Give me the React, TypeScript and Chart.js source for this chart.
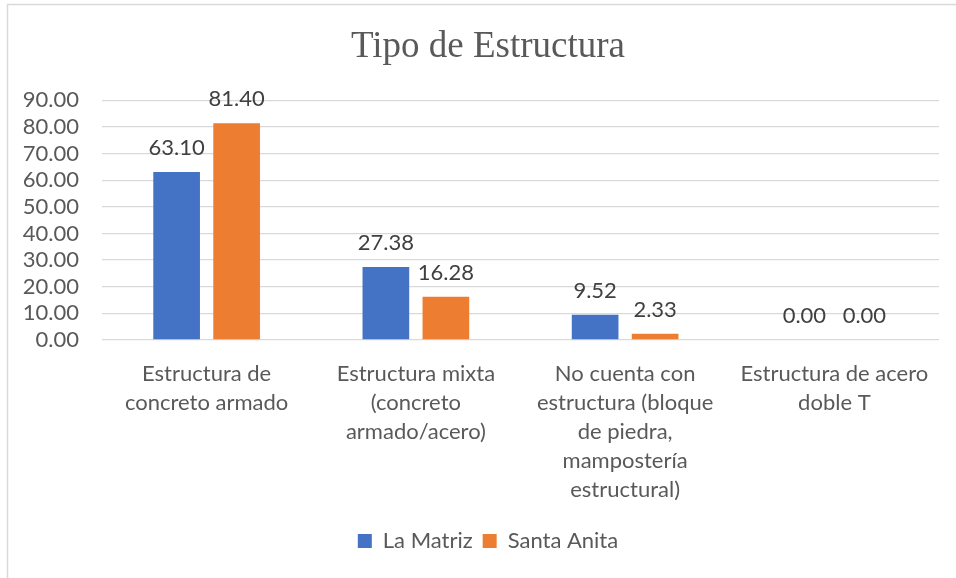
import React, { useEffect, useRef } from "react";
import { Chart, registerables } from "chart.js";

Chart.register(...registerables);

const categories: string[][] = [
  ["Estructura de", "concreto armado"],
  ["Estructura mixta", "(concreto", "armado/acero)"],
  ["No cuenta con", "estructura (bloque", "de piedra,", "mampostería", "estructural)"],
  ["Estructura de acero", "doble T"],
];
const laMatriz: number[] = [63.1, 27.38, 9.52, 0.0];
const santaAnita: number[] = [81.4, 16.28, 2.33, 0.0];
const seriesNames: string[] = ["La Matriz", "Santa Anita"];
const yTicks: number[] = [0, 10, 20, 30, 40, 50, 60, 70, 80, 90];
const titleText = "Tipo de Estructura";

const SANS = "Lato, 'Open Sans', sans-serif";
const SERIF = "'Liberation Serif', 'Times New Roman', serif";

const bgBorder = {
  id: "bgBorder",
  beforeDraw(chart: any) {
    const ctx = chart.ctx;
    ctx.save();
    ctx.fillStyle = "#ffffff";
    ctx.fillRect(0, 0, chart.width, chart.height);
    ctx.strokeStyle = "#d9d9d9";
    ctx.lineWidth = 1.5;
    ctx.strokeRect(7.5, 4.5, chart.width + 20, chart.height + 20);
    ctx.restore();
  },
};

const dataLabels = {
  id: "dataLabels",
  afterDatasetsDraw(chart: any) {
    const ctx = chart.ctx;
    ctx.save();
    ctx.font = `22px ${SANS}`;
    ctx.fillStyle = "#404040";
    ctx.textAlign = "center";
    ctx.textBaseline = "middle";
    chart.data.datasets.forEach((ds: any, i: number) => {
      const meta = chart.getDatasetMeta(i);
      meta.data.forEach((el: any, j: number) => {
        const v = ds.data[j] as number;
        ctx.fillText(v.toFixed(2), el.x, el.y - 24);
      });
    });
    ctx.restore();
  },
};

export default function App() {
  const ref = useRef<HTMLCanvasElement | null>(null);
  useEffect(() => {
    if (!ref.current) return;
    const chart = new Chart(ref.current, {
      type: "bar",
      data: {
        labels: categories,
        datasets: [
          {
            label: seriesNames[0],
            data: laMatriz,
            backgroundColor: "#4472C4",
            categoryPercentage: 0.5735,
            barPercentage: 0.778,
          },
          {
            label: seriesNames[1],
            data: santaAnita,
            backgroundColor: "#ED7D31",
            categoryPercentage: 0.5735,
            barPercentage: 0.778,
          },
        ],
      },
      options: {
        responsive: false,
        animation: false,
        layout: { padding: { left: 20, right: 0, top: 0, bottom: 16 } },
        plugins: {
          title: {
            display: true,
            text: titleText,
            color: "#595959",
            font: { family: SERIF, size: 37, weight: "normal" },
            padding: { top: 25, bottom: 31 },
          },
          legend: {
            display: true,
            position: "bottom",
            labels: {
              boxWidth: 14,
              boxHeight: 14,
              color: "#595959",
              font: { family: SANS, size: 22 },
              padding: 10,
            },
          },
          tooltip: { enabled: false },
        },
        scales: {
          x: {
            grid: { display: false, drawTicks: false },
            border: { display: false },
            ticks: {
              color: "#595959",
              font: { family: SANS, size: 22, lineHeight: 1.32 },
              padding: 19,
              maxRotation: 0,
              autoSkip: false,
            },
            afterFit: (s: any) => {
              s.height = 180;
            },
          },
          y: {
            min: 0,
            max: 90,
            afterBuildTicks: (s: any) => {
              s.ticks = yTicks.map((v) => ({ value: v }));
            },
            grid: { color: "#d9d9d9", lineWidth: 1.3, drawTicks: false },
            border: { display: false },
            ticks: {
              color: "#595959",
              font: { family: SANS, size: 22 },
              padding: 23,
              autoSkip: false,
              stepSize: 10,
              callback: (v: any) => Number(v).toFixed(2),
            },
            afterFit: (s: any) => {
              s.width = 82;
            },
          },
          yRight: {
            position: "right",
            display: true,
            grid: { display: false, drawTicks: false },
            border: { display: false },
            ticks: { display: false },
            afterFit: (s: any) => {
              s.width = 17;
            },
          },
        },
      },
      plugins: [bgBorder, dataLabels],
    });
    return () => chart.destroy();
  }, []);
  return (
    <div style={{ position: "fixed", left: 0, top: 0, width: 956, height: 578 }}>
      <canvas ref={ref} width={956} height={578} style={{ display: "block" }} />
    </div>
  );
}
